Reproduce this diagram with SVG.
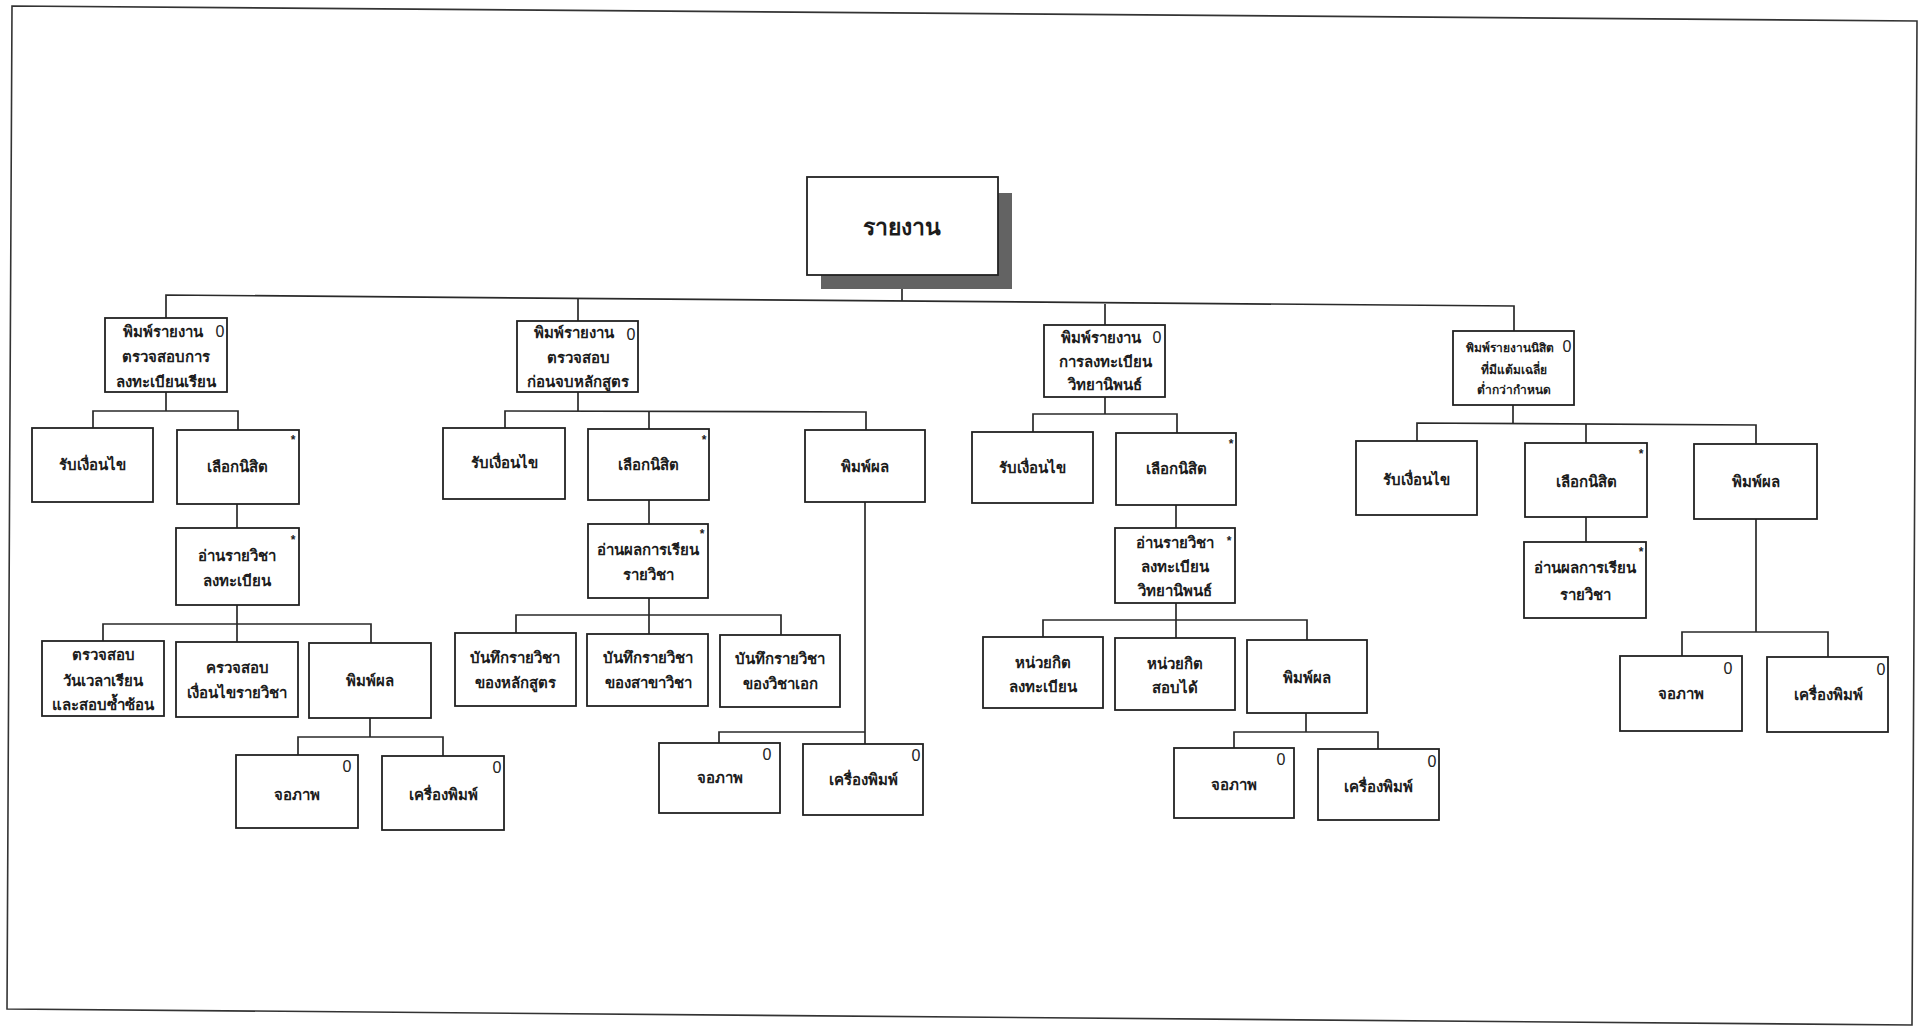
<svg xmlns="http://www.w3.org/2000/svg" width="1924" height="1028" viewBox="0 0 1924 1028">
<style>
.bg{fill:#fff}
.frame{fill:none;stroke:#333;stroke-width:1.6}
.box{fill:#fff;stroke:#222;stroke-width:1.8}
.shadow{fill:#636363}
.c{fill:none;stroke:#2a2a2a;stroke-width:1.7}
.t{font-family:"Noto Sans","DejaVu Sans",sans-serif;font-weight:bold;font-size:15px;text-anchor:middle;fill:#1c1c1c}
.ts{font-size:12px}
.tr{font-size:23px}
.o{font-family:"Liberation Sans",Arial,sans-serif;font-size:16px;text-anchor:middle;fill:#222}
.a{font-family:"Liberation Sans",Arial,sans-serif;font-size:12px;font-weight:bold;text-anchor:middle;fill:#222}
</style>
<rect class="bg" x="0" y="0" width="1924" height="1028"/>
<polygon class="frame" points="12,6 1917,21 1912,1025 7,1009"/>

<g id="connectors">
  <!-- root -->
  <polyline class="c" points="902,289 902,301"/>
  <polyline class="c" points="166,318 166,295 1514,306 1514,331"/>
  <polyline class="c" points="578,298 578,321"/>
  <polyline class="c" points="1105,304 1105,325"/>
  <!-- group 1 -->
  <polyline class="c" points="166,392 166,411"/>
  <polyline class="c" points="93,428 93,411 238,411 238,430"/>
  <polyline class="c" points="237,504 237,528"/>
  <polyline class="c" points="237,605 237,642"/>
  <polyline class="c" points="103,641 103,624 371,624 371,643"/>
  <polyline class="c" points="370,718 370,737"/>
  <polyline class="c" points="298,755 298,737 443,737 443,756"/>
  <!-- group 2 -->
  <polyline class="c" points="578,392 578,411"/>
  <polyline class="c" points="505,428 505,411 866,412 866,430"/>
  <polyline class="c" points="649,411 649,429"/>
  <polyline class="c" points="649,500 649,524"/>
  <polyline class="c" points="649,598 649,634"/>
  <polyline class="c" points="516,633 516,615 781,615 781,635"/>
  <polyline class="c" points="865,502 865,744"/>
  <polyline class="c" points="719,743 719,732 865,732"/>
  <!-- group 3 -->
  <polyline class="c" points="1105,397 1105,414"/>
  <polyline class="c" points="1033,432 1033,414 1177,414 1177,433"/>
  <polyline class="c" points="1176,505 1176,528"/>
  <polyline class="c" points="1176,603 1176,638"/>
  <polyline class="c" points="1043,637 1043,620 1307,620 1307,640"/>
  <polyline class="c" points="1306,713 1306,732"/>
  <polyline class="c" points="1234,748 1234,732 1378,732 1378,749"/>
  <!-- group 4 -->
  <polyline class="c" points="1513,405 1513,423"/>
  <polyline class="c" points="1417,441 1417,423 1756,425 1756,444"/>
  <polyline class="c" points="1586,424 1586,443"/>
  <polyline class="c" points="1586,517 1586,542"/>
  <polyline class="c" points="1756,519 1756,632"/>
  <polyline class="c" points="1682,656 1682,632 1828,632 1828,657"/>
</g>

<g id="root">
  <rect class="shadow" x="821" y="193" width="191" height="96"/>
  <rect class="box" x="807" y="177" width="191" height="98"/>
  <text class="t tr" x="902" y="235">รายงาน</text>
</g>

<!-- ===== Group 1 ===== -->
<g id="g1-report">
  <rect class="box" x="105" y="318" width="122" height="74"/>
  <text class="t" x="163" y="337">พิมพ์รายงาน</text>
  <text class="t" x="166" y="362">ตรวจสอบการ</text>
  <text class="t" x="166" y="387">ลงทะเบียนเรียน</text>
  <text class="o" x="220" y="337">0</text>
</g>
<g id="g1-cond">
  <rect class="box" x="32" y="428" width="121" height="74"/>
  <text class="t" x="92" y="470">รับเงื่อนไข</text>
</g>
<g id="g1-select">
  <rect class="box" x="177" y="430" width="122" height="74"/>
  <text class="t" x="237" y="472">เลือกนิสิต</text>
  <text class="a" x="293" y="444">*</text>
</g>
<g id="g1-read">
  <rect class="box" x="176" y="528" width="123" height="77"/>
  <text class="t" x="237" y="561">อ่านรายวิชา</text>
  <text class="t" x="237" y="586">ลงทะเบียน</text>
  <text class="a" x="293" y="544">*</text>
</g>
<g id="g1-checktime">
  <rect class="box" x="42" y="641" width="122" height="75"/>
  <text class="t" x="103" y="660">ตรวจสอบ</text>
  <text class="t" x="103" y="686">วันเวลาเรียน</text>
  <text class="t" x="103" y="710">และสอบซ้ำซ้อน</text>
</g>
<g id="g1-checkcond">
  <rect class="box" x="176" y="642" width="122" height="75"/>
  <text class="t" x="237" y="673">ครวจสอบ</text>
  <text class="t" x="237" y="698">เงื่อนไขรายวิชา</text>
</g>
<g id="g1-print">
  <rect class="box" x="309" y="643" width="122" height="75"/>
  <text class="t" x="370" y="686">พิมพ์ผล</text>
</g>
<g id="g1-screen">
  <rect class="box" x="236" y="755" width="122" height="73"/>
  <text class="t" x="297" y="800">จอภาพ</text>
  <text class="o" x="347" y="772">0</text>
</g>
<g id="g1-printer">
  <rect class="box" x="382" y="756" width="122" height="74"/>
  <text class="t" x="443" y="800">เครื่องพิมพ์</text>
  <text class="o" x="497" y="773">0</text>
</g>

<!-- ===== Group 2 ===== -->
<g id="g2-report">
  <rect class="box" x="517" y="321" width="121" height="71"/>
  <text class="t" x="574" y="338">พิมพ์รายงาน</text>
  <text class="t" x="578" y="363">ตรวจสอบ</text>
  <text class="t" x="578" y="387">ก่อนจบหลักสูตร</text>
  <text class="o" x="631" y="340">0</text>
</g>
<g id="g2-cond">
  <rect class="box" x="443" y="428" width="122" height="71"/>
  <text class="t" x="504" y="468">รับเงื่อนไข</text>
</g>
<g id="g2-select">
  <rect class="box" x="588" y="429" width="121" height="71"/>
  <text class="t" x="648" y="470">เลือกนิสิต</text>
  <text class="a" x="704" y="444">*</text>
</g>
<g id="g2-print">
  <rect class="box" x="805" y="430" width="120" height="72"/>
  <text class="t" x="865" y="472">พิมพ์ผล</text>
</g>
<g id="g2-read">
  <rect class="box" x="588" y="524" width="120" height="74"/>
  <text class="t" x="648" y="555">อ่านผลการเรียน</text>
  <text class="t" x="648" y="580">รายวิชา</text>
  <text class="a" x="702" y="538">*</text>
</g>
<g id="g2-rec1">
  <rect class="box" x="455" y="633" width="121" height="73"/>
  <text class="t" x="515" y="663">บันทึกรายวิชา</text>
  <text class="t" x="515" y="688">ของหลักสูตร</text>
</g>
<g id="g2-rec2">
  <rect class="box" x="587" y="634" width="121" height="72"/>
  <text class="t" x="648" y="663">บันทึกรายวิชา</text>
  <text class="t" x="648" y="688">ของสาขาวิชา</text>
</g>
<g id="g2-rec3">
  <rect class="box" x="720" y="635" width="120" height="72"/>
  <text class="t" x="780" y="664">บันทึกรายวิชา</text>
  <text class="t" x="780" y="689">ของวิชาเอก</text>
</g>
<g id="g2-screen">
  <rect class="box" x="659" y="743" width="121" height="70"/>
  <text class="t" x="720" y="783">จอภาพ</text>
  <text class="o" x="767" y="760">0</text>
</g>
<g id="g2-printer">
  <rect class="box" x="803" y="744" width="120" height="71"/>
  <text class="t" x="863" y="785">เครื่องพิมพ์</text>
  <text class="o" x="916" y="761">0</text>
</g>

<!-- ===== Group 3 ===== -->
<g id="g3-report">
  <rect class="box" x="1044" y="325" width="121" height="72"/>
  <text class="t" x="1101" y="343">พิมพ์รายงาน</text>
  <text class="t" x="1105" y="367">การลงทะเบียน</text>
  <text class="t" x="1105" y="390">วิทยานิพนธ์</text>
  <text class="o" x="1157" y="343">0</text>
</g>
<g id="g3-cond">
  <rect class="box" x="972" y="432" width="121" height="71"/>
  <text class="t" x="1032" y="473">รับเงื่อนไข</text>
</g>
<g id="g3-select">
  <rect class="box" x="1116" y="433" width="120" height="72"/>
  <text class="t" x="1176" y="474">เลือกนิสิต</text>
  <text class="a" x="1231" y="448">*</text>
</g>
<g id="g3-read">
  <rect class="box" x="1115" y="528" width="120" height="75"/>
  <text class="t" x="1175" y="548">อ่านรายวิชา</text>
  <text class="t" x="1175" y="572">ลงทะเบียน</text>
  <text class="t" x="1175" y="596">วิทยานิพนธ์</text>
  <text class="a" x="1229" y="545">*</text>
</g>
<g id="g3-credit-reg">
  <rect class="box" x="983" y="637" width="120" height="71"/>
  <text class="t" x="1043" y="668">หน่วยกิต</text>
  <text class="t" x="1043" y="692">ลงทะเบียน</text>
</g>
<g id="g3-credit-pass">
  <rect class="box" x="1115" y="638" width="120" height="72"/>
  <text class="t" x="1175" y="669">หน่วยกิต</text>
  <text class="t" x="1175" y="693">สอบได้</text>
</g>
<g id="g3-print">
  <rect class="box" x="1247" y="640" width="120" height="73"/>
  <text class="t" x="1307" y="683">พิมพ์ผล</text>
</g>
<g id="g3-screen">
  <rect class="box" x="1174" y="748" width="120" height="70"/>
  <text class="t" x="1234" y="790">จอภาพ</text>
  <text class="o" x="1281" y="765">0</text>
</g>
<g id="g3-printer">
  <rect class="box" x="1318" y="749" width="121" height="71"/>
  <text class="t" x="1378" y="792">เครื่องพิมพ์</text>
  <text class="o" x="1432" y="767">0</text>
</g>

<!-- ===== Group 4 ===== -->
<g id="g4-report">
  <rect class="box" x="1453" y="331" width="121" height="74"/>
  <text class="t ts" x="1510" y="352">พิมพ์รายงานนิสิต</text>
  <text class="t ts" x="1514" y="374">ที่มีแต้มเฉลี่ย</text>
  <text class="t ts" x="1514" y="394">ต่ำกว่ากำหนด</text>
  <text class="o" x="1567" y="352">0</text>
</g>
<g id="g4-cond">
  <rect class="box" x="1356" y="441" width="121" height="74"/>
  <text class="t" x="1416" y="485">รับเงื่อนไข</text>
</g>
<g id="g4-select">
  <rect class="box" x="1525" y="443" width="122" height="74"/>
  <text class="t" x="1586" y="487">เลือกนิสิต</text>
  <text class="a" x="1641" y="458">*</text>
</g>
<g id="g4-print">
  <rect class="box" x="1694" y="444" width="123" height="75"/>
  <text class="t" x="1756" y="487">พิมพ์ผล</text>
</g>
<g id="g4-read">
  <rect class="box" x="1524" y="542" width="122" height="76"/>
  <text class="t" x="1585" y="573">อ่านผลการเรียน</text>
  <text class="t" x="1585" y="600">รายวิชา</text>
  <text class="a" x="1641" y="556">*</text>
</g>
<g id="g4-screen">
  <rect class="box" x="1620" y="656" width="122" height="75"/>
  <text class="t" x="1681" y="699">จอภาพ</text>
  <text class="o" x="1728" y="674">0</text>
</g>
<g id="g4-printer">
  <rect class="box" x="1767" y="657" width="121" height="75"/>
  <text class="t" x="1828" y="700">เครื่องพิมพ์</text>
  <text class="o" x="1881" y="675">0</text>
</g>
</svg>
